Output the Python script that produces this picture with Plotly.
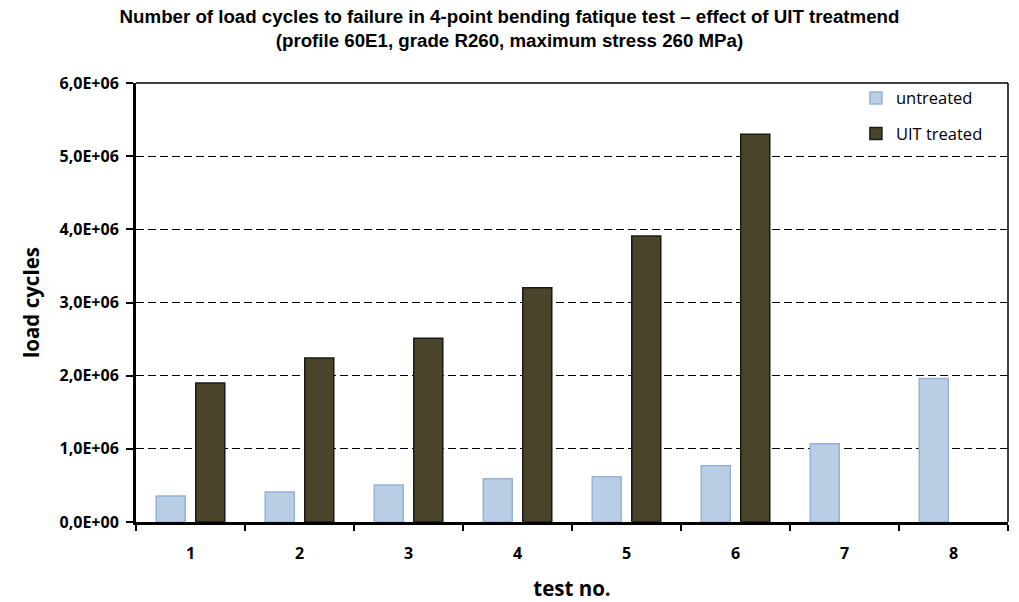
import plotly.graph_objects as go

tests = ["1", "2", "3", "4", "5", "6", "7", "8"]
untreated = [0.355e6, 0.41e6, 0.505e6, 0.59e6, 0.62e6, 0.77e6, 1.07e6, 1.96e6]
uit_treated = [1.90e6, 2.24e6, 2.51e6, 3.20e6, 3.91e6, 5.30e6, None, None]
y_tick_vals = [0, 1e6, 2e6, 3e6, 4e6, 5e6, 6e6]
y_tick_text = ["0,0E+00", "1,0E+06", "2,0E+06", "3,0E+06", "4,0E+06", "5,0E+06", "6,0E+06"]

FONT = "Open Sans, Noto Sans, sans-serif"

fig = go.Figure()
fig.add_trace(go.Bar(
    x=tests, y=untreated, name="untreated", legendgroup="a",
    marker=dict(color="#B9CDE5", line=dict(color="#95B3D7", width=1.5)),
))
fig.add_trace(go.Bar(
    x=tests, y=uit_treated, name="UIT treated", legendgroup="b",
    marker=dict(color="#4A452A", line=dict(color="#1A1A1A", width=1.5)),
))

fig.update_layout(
    width=1019, height=602,
    paper_bgcolor="white", plot_bgcolor="white",
    margin=dict(l=136, r=11, t=83, b=80),
    barmode="group", bargap=0.275, bargroupgap=0.266,
    title=dict(
        text="Number of load cycles to failure in 4-point bending fatique test \u2013 effect of UIT treatmend<br>(profile 60E1, grade R260, maximum stress 260 MPa)",
        x=0.5, xanchor="center", y=0.962, yanchor="top",
        font=dict(family="Liberation Sans, Arial", size=18.7, color="black", weight="bold"),
    ),
    legend=dict(
        x=0.8256, xanchor="left", y=1.005, yanchor="top",
        bgcolor="rgba(0,0,0,0)",
        font=dict(family=FONT, size=16.5, color="black"),
        tracegroupgap=11,
    ),
    font=dict(family=FONT, color="black"),
)

fig.update_xaxes(
    type="category",
    showline=True, linecolor="black", linewidth=3,
    ticks="outside", tickson="boundaries", ticklen=6, tickcolor="black", tickwidth=1.5,
    ticklabelstandoff=15,
    tickfont=dict(family=FONT, size=16, color="black", weight="bold"),
    title=dict(text="test no.", font=dict(family=FONT, size=20.5, color="black", weight="bold"), standoff=25),
    showgrid=False, automargin=False,
)
fig.update_yaxes(
    range=[0, 6e6],
    tickvals=y_tick_vals, ticktext=y_tick_text,
    showline=True, linecolor="black", linewidth=3,
    ticks="outside", ticklen=7, tickcolor="black", tickwidth=1.5,
    ticklabelstandoff=4,
    tickfont=dict(family=FONT, size=16, color="black", weight="bold"),
    showgrid=True, gridcolor="black", gridwidth=1.3, griddash="8px,4px",
    title=dict(text="load cycles", font=dict(family=FONT, size=20.5, color="black", weight="bold"), standoff=15),
    zeroline=False, automargin=False,
)

# thin frame on top and right of the plot area
fig.add_shape(type="line", xref="paper", yref="paper", x0=0, x1=1, y0=1, y1=1,
              line=dict(color="black", width=1.5))
fig.add_shape(type="line", xref="paper", yref="paper", x0=1, x1=1, y0=0, y1=1,
              line=dict(color="black", width=1.5))

fig.write_html("out.html", config={"displayModeBar": False},
               post_script="document.body.style.margin='0';document.body.style.overflow='hidden';")
